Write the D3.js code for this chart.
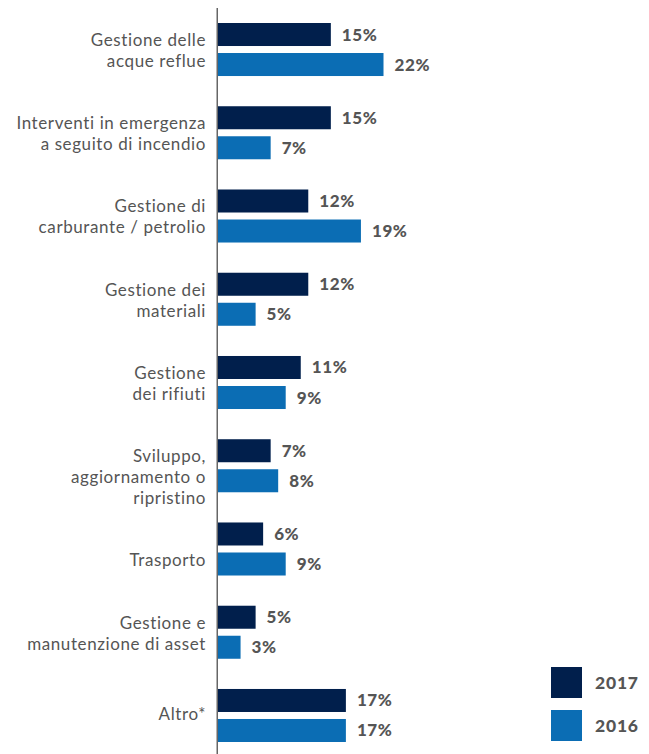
<!DOCTYPE html>
<html>
<head>
<meta charset="utf-8">
<script src="https://d3js.org/d3.v7.min.js"></script>
<style>
  body { margin: 0; background: #fff; }
  svg { display: block; }
  .cat { font-family: Lato, sans-serif; font-size: 17px; letter-spacing: 0.6px; fill: #555; font-variant-ligatures: none; }
  .val { font-family: Lato, sans-serif; font-size: 17px; letter-spacing: 0.6px; font-weight: 900; fill: #555; }
  .leg { font-family: Lato, sans-serif; font-size: 17.5px; letter-spacing: 0.8px; font-weight: 900; fill: #555; }
</style>
</head>
<body>
<script>
// categories (one array of lines per label)
var categories = [
  ["Gestione delle", "acque reflue"],
  ["Interventi in emergenza", "a seguito di incendio"],
  ["Gestione di", "carburante / petrolio"],
  ["Gestione dei", "materiali"],
  ["Gestione", "dei rifiuti"],
  ["Sviluppo,", "aggiornamento o", "ripristino"],
  ["", "Trasporto"],
  ["Gestione e", "manutenzione di asset"],
  ["Altro*"]
];
var seriesNames = ["2017", "2016"];
var values2017 = [15, 15, 12, 12, 11, 7, 6, 5, 17];
var values2016 = [22, 7, 19, 5, 9, 8, 9, 3, 17];
var colors = ["#011f4c", "#0b6db4"];

var W = 649, H = 754;
var svg = d3.select("body").append("svg").attr("width", W).attr("height", H);

var keys = categories.map(function (c, i) { return "c" + i; });
var rows = categories.map(function (c, i) {
  return { key: keys[i], lines: c, vals: [values2017[i], values2016[i]] };
});

var left = 218;
var x = d3.scaleLinear().domain([0, 22]).range([left, left + 165.5]);
var y = d3.scaleBand().domain(keys).range([23, 742]).paddingInner(0.363).paddingOuter(0).align(0);
var ys = d3.scaleBand().domain(seriesNames).range([0, y.bandwidth()]).paddingInner(0.2333);

var g = svg.selectAll(".grp").data(rows).enter().append("g")
  .attr("class", "grp")
  .attr("transform", function (d) { return "translate(0," + y(d.key) + ")"; });

g.selectAll("rect").data(function (d) {
  return d.vals.map(function (v, j) { return { s: seriesNames[j], v: v, j: j }; });
}).enter().append("rect")
  .attr("x", x(0))
  .attr("y", function (d) { return ys(d.s); })
  .attr("width", function (d) { return x(d.v) - x(0); })
  .attr("height", ys.bandwidth())
  .attr("fill", function (d) { return colors[d.j]; });

g.selectAll(".val").data(function (d) {
  return d.vals.map(function (v, j) { return { s: seriesNames[j], v: v }; });
}).enter().append("text")
  .attr("class", "val")
  .attr("x", function (d) { return x(d.v) + 11; })
  .attr("y", function (d) { return ys(d.s) + ys.bandwidth() / 2 + 6; })
  .text(function (d) { return d.v + "%"; });

// category labels
g.append("text")
  .attr("class", "cat")
  .attr("text-anchor", "end")
  .each(function (d) {
    var t = d3.select(this);
    var mid = y.bandwidth() / 2;
    var first = d.lines.length > 1 ? mid - 3.5 : mid + 5;
    d.lines.forEach(function (line, k) {
      t.append("tspan").attr("x", 206).attr("y", first + k * 21).text(line);
    });
  });

// axis line
svg.append("line")
  .attr("x1", x(0) - 0.75).attr("x2", x(0) - 0.75)
  .attr("y1", 8).attr("y2", H)
  .attr("stroke", "#666").attr("stroke-width", 1.5);

// legend
var leg = svg.selectAll(".lg").data(seriesNames).enter().append("g")
  .attr("transform", function (d, i) { return "translate(551," + (667 + i * 43) + ")"; });
leg.append("rect").attr("width", 31).attr("height", 31)
  .attr("fill", function (d, i) { return colors[i]; });
leg.append("text").attr("class", "leg").attr("x", 44).attr("y", 21.5)
  .text(function (d) { return d; });
</script>
</body>
</html>
